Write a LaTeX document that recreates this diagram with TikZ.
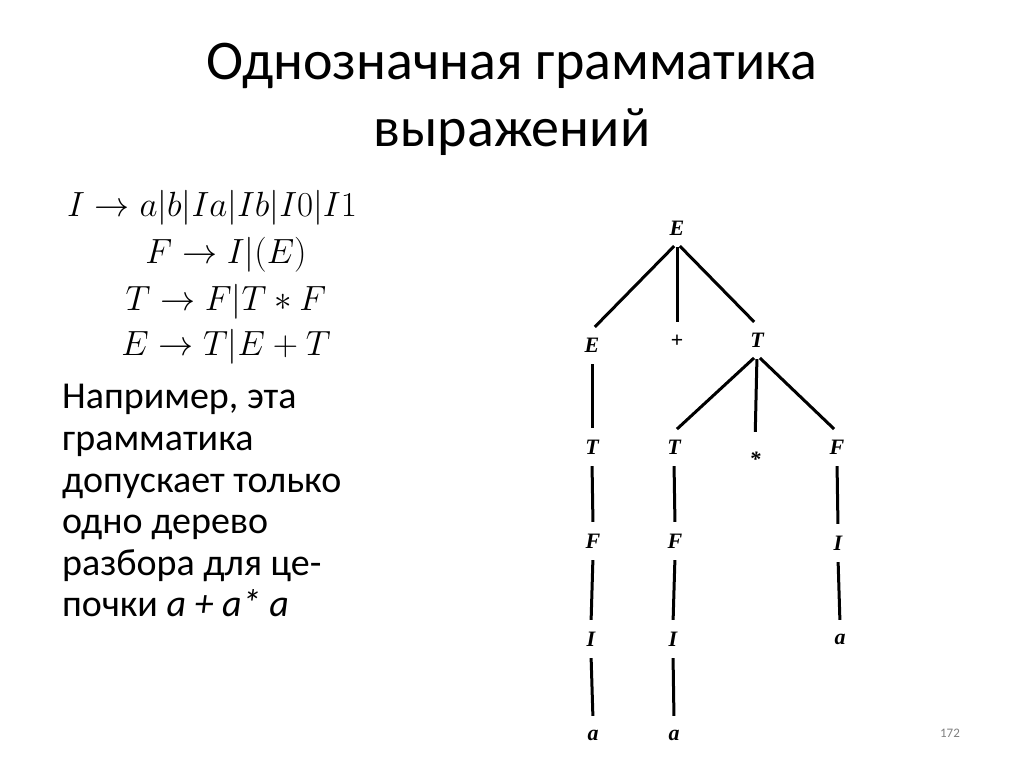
\RequirePackage{fix-cm}
\documentclass[tikz,border=0pt]{standalone}
\usepackage[no-math]{fontspec}
\setmainfont{Carlito}
\newfontfamily\treefont{Liberation Serif}
\tikzset{
  sym/.style={font=\treefont\bfseries\itshape\fontsize{22}{22}\selectfont,
    inner sep=0pt, minimum width=16pt, minimum height=30pt},
  branch/.style={line width=3pt, shorten <=4pt, shorten >=4pt},
  titleline/.style={anchor=base, inner sep=0pt, font=\fontsize{56}{67}\selectfont},
  rule/.style={anchor=base, inner sep=0pt, font=\fontsize{35}{46}\selectfont},
  body/.style={anchor=base west, inner sep=0pt, font=\fontsize{38}{42}\selectfont}
}
\begin{document}
\begin{tikzpicture}[x=1pt,y=-1pt]
  \fill[white] (0,0) rectangle (1024,767);
  \useasboundingbox (0,0) rectangle (1024,767);
  % title
  \node[titleline] (title1) at (512,80) {Однозначная грамматика};
  \node[titleline] (title2) at (512,147) {выражений};
  % grammar
  \node[rule] (r1) at (212,217) {$I \rightarrow a|b|Ia|Ib|I0|I1$};
  \node[rule] (r2) at (226,263) {$F \rightarrow I|(E)$};
  \node[rule] (r3) at (226,310) {$T \rightarrow F|T \ast F$};
  \node[rule] (r4) at (226,355) {$E \rightarrow T|E + T$};
  % text
  \node[body] (t1) at (62,408) {Например, эта};
  \node[body] (t2) at (62,450) {грамматика};
  \node[body] (t3) at (62,492) {допускает только};
  \node[body] (t4) at (62,533) {одно дерево};
  \node[body] (t5) at (62,575) {разбора для це-};
  \node[body] (t6) at (62,616) {почки \textit{a + a* a}};
  % tree
  \node[sym] (E0) at (677,228) {E};
  \node[sym] (E1) at (592,345) {E};
  \node[sym] (plus) at (677,341) {+};
  \node[sym] (T1) at (757,340) {T};
  \node[sym] (T2) at (592,447) {T};
  \node[sym] (T3) at (674,447) {T};
  \node[sym] (ast) at (755,459) {*};
  \node[sym] (F1) at (837,447) {F};
  \node[sym] (F2) at (593,541) {F};
  \node[sym] (F3) at (675,541) {F};
  \node[sym] (I1) at (838,543) {I};
  \node[sym] (I2) at (591,639) {I};
  \node[sym] (I3) at (673,639) {I};
  \node[sym] (a1) at (840,639) {a};
  \node[sym] (a2) at (593,735) {a};
  \node[sym] (a3) at (674,735) {a};
  \draw[branch] (E0.south) -- (E1.north);
  \draw[branch] (E0.south) -- (plus.north);
  \draw[branch] (E0.south) -- (T1.north);
  \draw[branch] (E1.south) -- (T2.north);
  \draw[branch] (T1.south) -- (T3.north);
  \draw[branch, shorten >=12pt] (T1.south) -- (ast.north);
  \draw[branch] (T1.south) -- (F1.north);
  \draw[branch] (T2.south) -- (F2.north);
  \draw[branch] (T3.south) -- (F3.north);
  \draw[branch] (F1.south) -- (I1.north);
  \draw[branch] (F2.south) -- (I2.north);
  \draw[branch] (F3.south) -- (I3.north);
  \draw[branch] (I1.south) -- (a1.north);
  \draw[branch] (I2.south) -- (a2.north);
  \draw[branch] (I3.south) -- (a3.north);
  % page number
  \node[font=\fontsize{13}{13}\selectfont, text=gray, inner sep=0pt] (page) at (950,733) {172};
\end{tikzpicture}
\end{document}
